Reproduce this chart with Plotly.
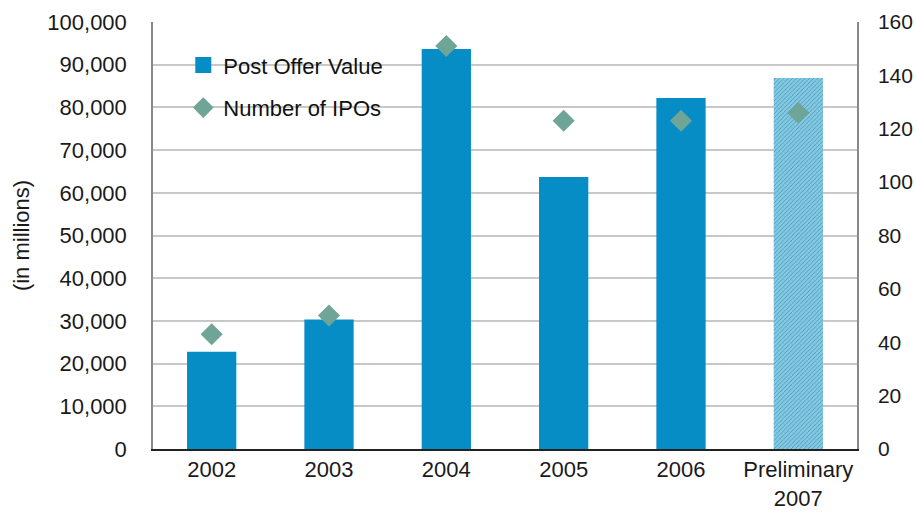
import plotly.graph_objects as go
from plotly.subplots import make_subplots

categories = ["2002", "2003", "2004", "2005", "2006", "Preliminary<br>2007"]
post_offer_value = [22800, 30300, 93700, 63700, 82200, 86900]
number_of_ipos = [43, 50, 151, 123, 123, 126]
left_ticks = list(range(0, 100001, 10000))
right_ticks = list(range(0, 161, 20))

bar_colors = ["#078dc6"] * 5 + ["#7dcbe8"]
pattern_shapes = [""] * 5 + ["/"]

fig = make_subplots(specs=[[{"secondary_y": True}]])

fig.add_trace(go.Bar(
    x=categories, y=post_offer_value, name="Post Offer Value",
    showlegend=False,
    marker=dict(color=bar_colors, line=dict(width=0),
                pattern=dict(shape=pattern_shapes, fgcolor="#b3e2f3",
                             bgcolor=bar_colors, size=3, solidity=0.25)),
    width=0.42,
), secondary_y=False)

# legend-only entry for the bars (square swatch)
fig.add_trace(go.Scatter(
    x=[None], y=[None], name="Post Offer Value", mode="markers",
    legendgroup="a",
    marker=dict(symbol="square", size=17, color="#078dc6"),
), secondary_y=False)

fig.add_trace(go.Scatter(
    x=categories, y=number_of_ipos, name="Number of IPOs", mode="markers",
    legendgroup="b",
    marker=dict(symbol="diamond", size=17, color="#6fa597"),
), secondary_y=True)

font = dict(family="Liberation Sans, Arial, sans-serif", size=22, color="#1a1a1a")

fig.update_layout(
    width=916, height=527,
    margin=dict(l=153, r=59, t=22, b=78),
    paper_bgcolor="white", plot_bgcolor="white",
    font=font,
    showlegend=True,
    legend=dict(x=0.043, y=0.948, xanchor="left", yanchor="top",
                bgcolor="rgba(0,0,0,0)", font=dict(size=22, color="#111111"),
                itemsizing="trace", tracegroupgap=11, itemwidth=30),
    bargap=0.58,
)

fig.update_xaxes(domain=[0, 1], showline=True, linecolor="#222222", linewidth=2,
                 ticks="", tickfont=font, showgrid=False, automargin=False)
fig.update_yaxes(range=[0, 100000], tickvals=left_ticks,
                 ticktext=[f"{v:,}" for v in left_ticks],
                 showline=True, linecolor="#888888", linewidth=1.5,
                 showgrid=True, gridcolor="#c8c8c8", gridwidth=1.5,
                 title=dict(text="(in millions)", font=font, standoff=12),
                 tickfont=font, ticks="", ticklabelstandoff=20,
                 automargin=False, secondary_y=False)
fig.update_yaxes(range=[0, 160], tickvals=right_ticks,
                 showline=True, linecolor="#888888", linewidth=1.5,
                 showgrid=False, tickfont=dict(family=font["family"], size=21, color=font["color"]),
                 ticks="", ticklabelstandoff=15,
                 automargin=False, secondary_y=True)

fig.write_html("out.html", config={"displayModeBar": False},
               post_script="document.body.style.margin='0px';document.body.style.overflow='hidden';")
